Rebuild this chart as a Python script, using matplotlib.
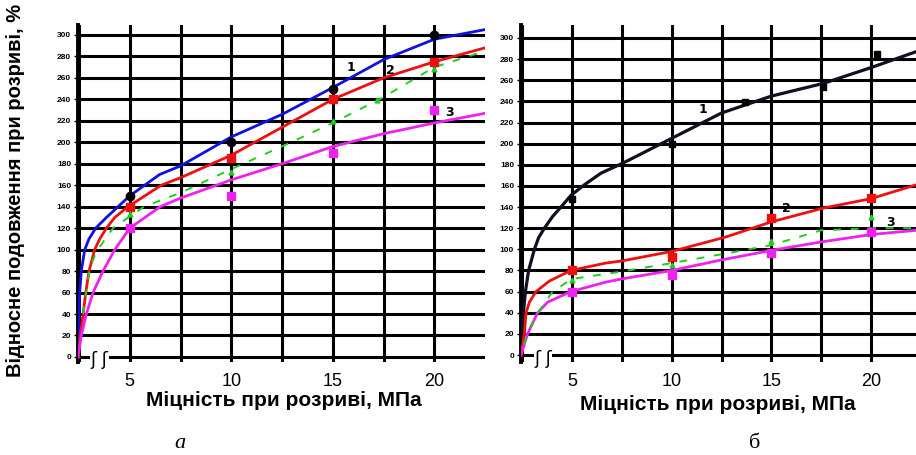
import numpy as np
import matplotlib
matplotlib.use('Agg')
import matplotlib.pyplot as plt

# panel a: trend curves (x = strength, MPa; y = elongation, %)
a_blue_x = [2.45, 2.5, 2.53, 2.61, 2.78, 2.99, 3.32, 3.85, 4.42, 4.99, 5.73, 6.47, 7.5, 10, 12.5, 15, 17.5, 20, 22.5]
a_blue_y = [0, 40, 60, 80, 100, 110, 120, 130, 140, 150, 160, 170, 178, 205, 226, 251, 277, 296, 305]
a_red_x = [2.47, 2.56, 2.70, 2.83, 2.99, 3.27, 3.52, 3.85, 4.26, 4.91, 5.73, 6.55, 7.5, 10, 12.5, 15, 17.5, 20, 22.5]
a_red_y = [0, 20, 40, 60, 80, 100, 110, 120, 130, 140, 150, 160, 167, 188, 214, 240, 260, 275, 288]
a_mag_x = [2.45, 2.61, 2.86, 3.19, 3.68, 4.26, 5.0, 6.5, 7.5, 10, 12.5, 15, 17.5, 20, 22.5]
a_mag_y = [0, 20, 40, 60, 80, 100, 120, 140, 148, 165, 180, 196, 208, 218, 227]
a_grn_x = [2.7, 3.02, 3.35, 4.17, 5.7, 7.5, 10, 12.6, 15, 17.4, 20, 22.5]
a_grn_y = [40, 82, 98, 120, 140, 153, 175, 197, 218, 241, 270, 285]

# panel a: measured points
a_pts_x = [5, 10, 15, 20]
a_pts1 = [150, 200, 250, 300]
a_pts2 = [140, 185, 240, 275]
a_pts3 = [120, 150, 190, 230]
a_ptsg_x = [5, 10, 15, 17.2, 20]
a_ptsg = [133, 172, 220, 239, 268]

# panel b: trend curves
b_blk_x = [2.45, 2.5, 2.57, 2.67, 2.83, 3.12, 3.33, 3.62, 4.03, 4.45, 4.95, 5.62, 6.45, 7.6, 10, 12.5, 15, 17.6, 20, 22.25]
b_blk_y = [0, 20, 40, 60, 80, 100, 111, 120, 131, 140, 151, 161, 172, 182, 205, 229, 245, 257, 272, 287]
b_red_x = [2.45, 2.62, 2.7, 2.87, 3.2, 3.87, 4.95, 6.7, 7.5, 10, 12.7, 15, 17.6, 20, 22.25]
b_red_y = [0, 20, 40, 50, 60, 70, 80, 87, 89, 98, 111.6, 126, 139, 148, 161]
b_mag_x = [2.45, 2.78, 3.28, 3.78, 4.95, 6.7, 7.5, 10, 12.5, 15, 17.5, 20, 22.25]
b_mag_y = [0, 20, 40, 50, 60, 69, 72, 80, 90, 99, 107, 114, 118]
b_grn_x = [2.6, 2.87, 3.3, 4.03, 5, 7.5, 10, 12.7, 15, 17.5, 20, 22.25]
b_grn_y = [10, 25, 40, 60, 72, 79, 87, 96, 104, 118, 120, 120]

# panel b: measured points
b_pts1_x = [5, 10, 13.7, 17.6, 20.3]
b_pts1 = [148, 200, 239, 254, 285]
b_pts_x = [5, 10, 15, 20]
b_pts2 = [80, 93, 130, 149]
b_pts3 = [60, 76, 97, 116]
b_ptsg = [71, 85, 108, 131]

x_ticks = [5, 10, 15, 20]
y_ticks = list(range(0, 301, 20))

narrow = ['Liberation Sans Narrow', 'Liberation Sans', 'DejaVu Sans']
xlabel = 'Міцність при розриві, МПа'
ylabel = 'Відносне подовження при розриві, %'

fig = plt.figure(figsize=(9.16, 4.55), dpi=100)


def setup(ax, xmax, ymin, ymax):
    ax.set_xlim(2.45, xmax)
    ax.set_ylim(ymin, ymax)
    ax.set_xticks(x_ticks)
    ax.set_xticks(np.arange(2.5, xmax, 2.5), minor=True)
    ax.set_yticks(y_ticks)
    ax.grid(True, which='both', color='black', lw=2.2)
    for s in ['top', 'right', 'bottom']:
        ax.spines[s].set_visible(False)
    ax.spines['left'].set_linewidth(2.8)
    ax.tick_params(axis='x', which='both', length=0, labelsize=13, pad=8)
    ax.tick_params(axis='y', length=3, width=1, pad=2)
    for t in ax.get_xticklabels():
        t.set_family('Liberation Sans')
    for t in ax.get_yticklabels():
        t.set_family(narrow)
        t.set_fontsize(6)
        t.set_fontweight('bold')
    ax.set_axisbelow(True)


# panel a
ax1 = fig.add_axes([0.0852, 0.2044, 0.4443, 0.7407])
setup(ax1, 22.5, -4.7, 309.3)
ax1.plot(a_blue_x, a_blue_y, color='#1010e0', lw=2.0, zorder=3)
ax1.plot(a_red_x, a_red_y, color='#ee1010', lw=2.0, zorder=3)
ax1.plot(a_mag_x, a_mag_y, color='#ee22ee', lw=2.0, zorder=3)
ax1.plot(a_grn_x, a_grn_y, color='#22cc22', lw=1.4, ls=(0, (4, 5)), zorder=3)
ax1.plot(a_pts_x, a_pts1, 'o', color='black', ms=6, zorder=4)
ax1.plot(a_pts_x, a_pts2, 's', color='#ee1010', ms=6, zorder=4)
ax1.plot(a_pts_x, a_pts3, 's', color='#ee22ee', ms=5.5, zorder=4)
ax1.plot(a_ptsg_x, a_ptsg, '^', color='#22cc22', ms=3.5, zorder=4)
ax1.text(15.9, 270, '1', fontsize=9, fontweight='bold', ha='center', va='center')
ax1.text(17.85, 267, '2', fontsize=9, fontweight='bold', ha='center', va='center')
ax1.text(20.75, 228, '3', fontsize=9, fontweight='bold', ha='center', va='center')
ax1.text(3.5, -3, 'ʃ ʃ', fontsize=13, ha='center', va='center',
         bbox=dict(facecolor='white', edgecolor='none', pad=0.3), zorder=5)

# panel b
ax2 = fig.add_axes([0.5688, 0.2044, 0.4312, 0.7407])
setup(ax2, 22.25, -6.6, 312.3)
ax2.plot(b_blk_x, b_blk_y, color='#101020', lw=2.3, zorder=3)
ax2.plot(b_red_x, b_red_y, color='#ee1010', lw=2.0, zorder=3)
ax2.plot(b_mag_x, b_mag_y, color='#ee22ee', lw=2.0, zorder=3)
ax2.plot(b_grn_x, b_grn_y, color='#22cc22', lw=1.4, ls=(0, (4, 5)), zorder=3)
ax2.plot(b_pts1_x, b_pts1, 's', color='black', ms=4.5, zorder=4)
ax2.plot(b_pts_x, b_pts2, 's', color='#ee1010', ms=6, zorder=4)
ax2.plot(b_pts_x, b_pts3, 's', color='#ee22ee', ms=5.5, zorder=4)
ax2.plot(b_pts_x, b_ptsg, '^', color='#22cc22', ms=3.5, zorder=4)
ax2.text(11.55, 232, '1', fontsize=9, fontweight='bold', ha='center', va='center')
ax2.text(15.75, 139, '2', fontsize=9, fontweight='bold', ha='center', va='center')
ax2.text(20.95, 125, '3', fontsize=9, fontweight='bold', ha='center', va='center')
ax2.text(3.55, -4, 'ʃ ʃ', fontsize=13, ha='center', va='center',
         bbox=dict(facecolor='white', edgecolor='none', pad=0.3), zorder=5)

# axis titles
fig.text(284 / 916, 1 - 400 / 455, xlabel, family=narrow, fontsize=15,
         fontweight='bold', ha='center', va='center')
fig.text(718 / 916, 1 - 405 / 455, xlabel, family=narrow, fontsize=15,
         fontweight='bold', ha='center', va='center')
fig.text(16 / 916, 1 - 190 / 455, ylabel, family=narrow, fontsize=14.5,
         fontweight='bold', rotation=90, ha='center', va='center')

# panel letters
fig.text(180 / 916, 1 - 443 / 455, 'а', family='Liberation Serif', style='italic',
         fontsize=16, ha='center', va='center')
fig.text(755 / 916, 1 - 443 / 455, 'б', family='Liberation Serif',
         fontsize=16, ha='center', va='center')

fig.savefig('out.png', dpi=100)
